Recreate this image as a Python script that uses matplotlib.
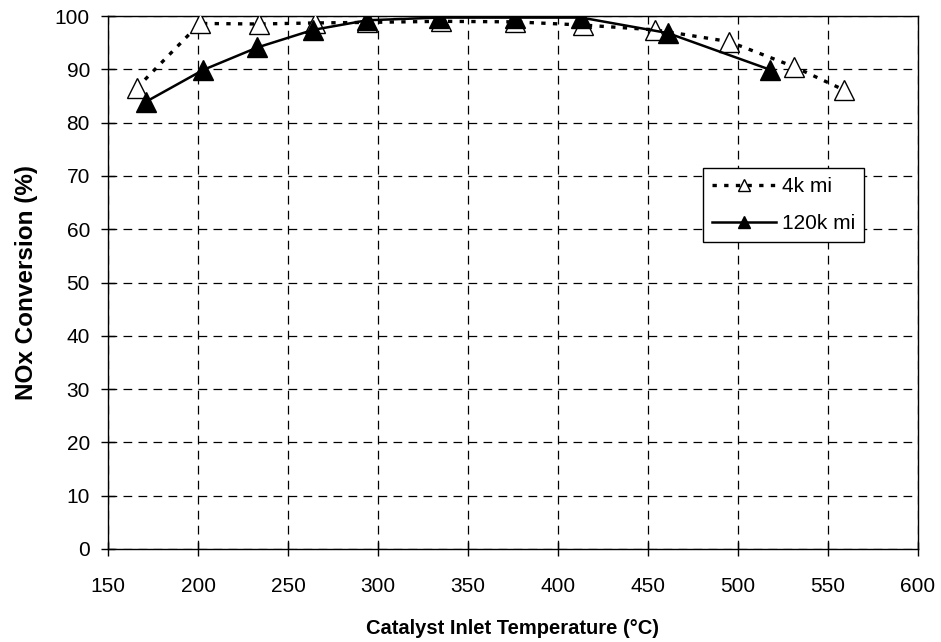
import numpy as np
import matplotlib
matplotlib.use('Agg')
import matplotlib.pyplot as plt

plt.rcParams['font.family'] = ['Liberation Sans', 'DejaVu Sans']

# 4k mi (open triangles, dotted line)
temp_4k = [166, 201, 234, 265, 294, 335, 376, 414, 454, 495, 531, 559]
nox_4k = [86.5, 98.6, 98.5, 98.7, 98.8, 99.0, 98.9, 98.3, 97.4, 95.2, 90.5, 86.1]

# 120k mi (filled triangles, solid line)
temp_120k = [171, 203, 233, 264, 294, 334, 376, 413, 461, 518]
nox_120k = [83.9, 89.9, 94.1, 97.4, 99.2, 99.7, 99.7, 99.7, 96.8, 89.9]

xticks = [150, 200, 250, 300, 350, 400, 450, 500, 550, 600]
yticks = [0, 10, 20, 30, 40, 50, 60, 70, 80, 90, 100]

fig = plt.figure(figsize=(9.41, 6.42), dpi=100)
ax = fig.add_axes([108/941, 1-549/642, 810/941, 533/642])

ax.plot(temp_4k, nox_4k, color='black', linestyle=(0, (1.3, 2.2)), lw=2.4,
        marker='^', ms=14, mfc='white', mec='black', mew=1.0, label='4k mi', zorder=3)
ax.plot(temp_120k, nox_120k, color='black', linestyle='-', lw=1.8,
        marker='^', ms=14, mfc='black', mec='black', label='120k mi', zorder=4)

ax.set_xlim(150, 600)
ax.set_ylim(0, 100)
ax.set_xticks(xticks)
ax.set_yticks(yticks)
ax.tick_params(direction='inout', length=10, width=1, labelsize=15, color='black')
ax.tick_params(axis='x', pad=15)
ax.tick_params(axis='y', pad=8)
ax.grid(True, color='black', linestyle=(0, (7, 5)), lw=0.9)
for s in ax.spines.values():
    s.set_linewidth(1.0)
    s.set_color('black')

ax.set_xlabel('Catalyst Inlet Temperature (°C)', fontsize=14.5, fontweight='bold')
ax.set_ylabel('NOx Conversion (%)', fontsize=17.5, fontweight='bold')
ax.xaxis.set_label_coords(0.5, -0.132)
ax.yaxis.set_label_coords(-0.087, 0.5)

leg = ax.legend(loc='upper left', bbox_to_anchor=(0.734, 0.715), fontsize=15,
                frameon=True, fancybox=False, edgecolor='black', framealpha=1,
                handlelength=3.1, borderpad=0.45, labelspacing=0.85, handletextpad=0.25,
                borderaxespad=0, markerscale=0.64)
leg.get_frame().set_linewidth(1.0)

fig.savefig('out.png', dpi=100)
